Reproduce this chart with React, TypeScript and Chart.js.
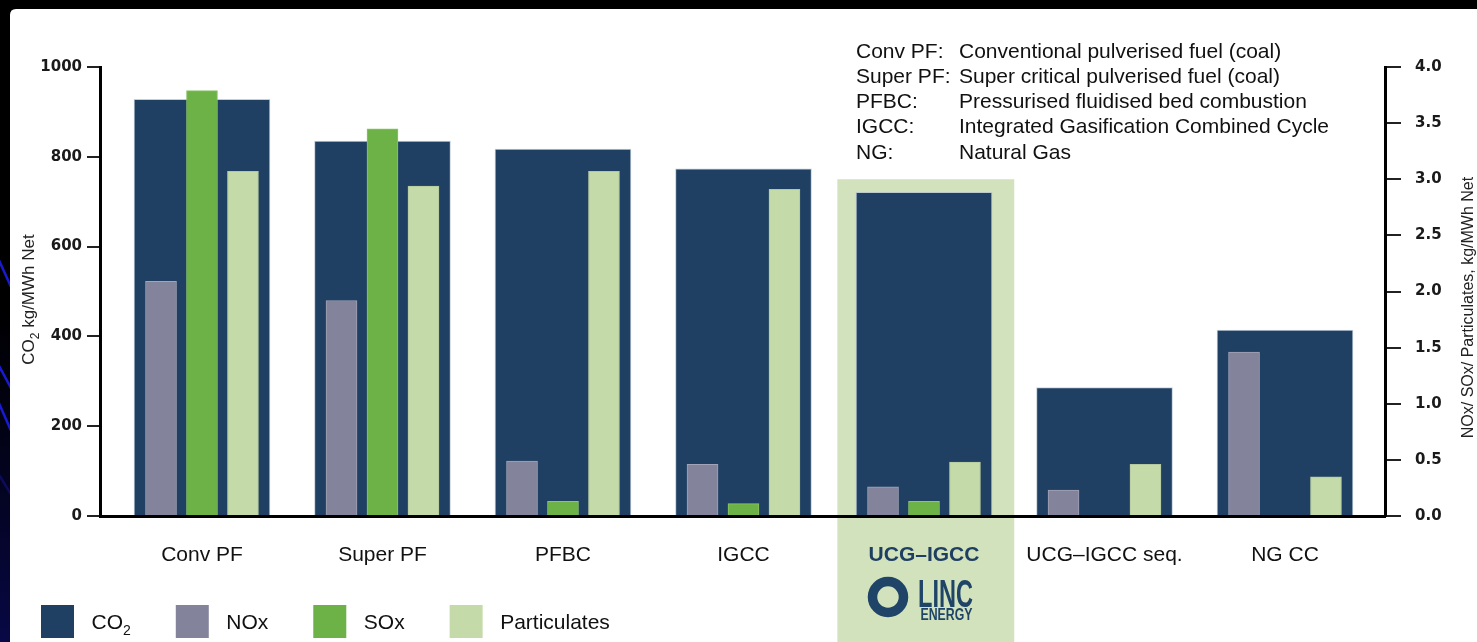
import React, { useEffect, useRef } from 'react';
import { Chart, registerables } from 'chart.js';

Chart.register(...registerables);

// Generating technologies shown along the x axis
const categories = ['Conv PF', 'Super PF', 'PFBC', 'IGCC', 'UCG–IGCC', 'UCG–IGCC seq.', 'NG CC'];

// CO2 emissions, kg/MWh net (left axis)
const co2Values = [928, 835, 817, 773, 721, 286, 414];

// NOx / SOx / particulates, kg/MWh net (right axis)
const noxValues = [2.09, 1.92, 0.49, 0.46, 0.26, 0.23, 1.46];
const soxValues = [3.79, 3.45, 0.13, 0.11, 0.13, null, null];
const particulateValues = [3.07, 2.94, 3.07, 2.91, 0.48, 0.46, 0.35];

const seriesNames = ['CO2', 'NOx', 'SOx', 'Particulates'];

// Abbreviation key printed in the top right corner
const abbreviations = ['Conv PF:', 'Super PF:', 'PFBC:', 'IGCC:', 'NG:'];
const definitions = [
  'Conventional pulverised fuel (coal)',
  'Super critical pulverised fuel (coal)',
  'Pressurised fluidised bed combustion',
  'Integrated Gasification Combined Cycle',
  'Natural Gas',
];

const co2Title = 'CO2 kg/MWh Net';
const emissionsTitle = 'NOx/ SOx/ Particulates, kg/MWh Net';

// The featured technology gets a shaded column and the company mark
const featuredIndex = 4;

const COLORS = {
  co2: '#1f4063',
  nox: '#83849b',
  sox: '#6cb246',
  particulates: '#c4dba9',
  feature: '#d1e2bc',
  brand: '#1f4468',
  text: '#111111',
};

const SANS = "'Liberation Sans', Arial, Helvetica, sans-serif";
const TICK_FONT = { family: "'DejaVu Sans', Verdana, sans-serif", size: 15, weight: 'bold' as const };

// Text such as "CO2 ..." is drawn with the digit after the formula as a subscript
function splitFormula(text: string) {
  const m = /^([A-Z][A-Za-z]*?)(\d)(.*)$/.exec(text);
  if (!m) return { head: text, sub: '', tail: '' };
  return { head: m[1], sub: m[2], tail: m[3] };
}

function measureFormula(ctx: CanvasRenderingContext2D, text: string, size: number) {
  const { head, sub, tail } = splitFormula(text);
  ctx.font = `${size}px ${SANS}`;
  let w = ctx.measureText(head).width + ctx.measureText(tail).width;
  if (sub) {
    ctx.font = `${Math.round(size * 0.68)}px ${SANS}`;
    w += ctx.measureText(sub).width;
  }
  return w;
}

function drawFormula(ctx: CanvasRenderingContext2D, text: string, x: number, y: number, size: number) {
  const { head, sub, tail } = splitFormula(text);
  ctx.textAlign = 'left';
  ctx.textBaseline = 'alphabetic';
  ctx.font = `${size}px ${SANS}`;
  ctx.fillText(head, x, y);
  let cx = x + ctx.measureText(head).width;
  if (sub) {
    ctx.font = `${Math.round(size * 0.68)}px ${SANS}`;
    ctx.fillText(sub, cx, y + size * 0.3);
    cx += ctx.measureText(sub).width;
    ctx.font = `${size}px ${SANS}`;
  }
  ctx.fillText(tail, cx, y);
  return cx + ctx.measureText(tail).width - x;
}

// Draws text squeezed horizontally to a given width
function drawCondensed(ctx: CanvasRenderingContext2D, text: string, x: number, y: number, font: string, width: number) {
  ctx.font = font;
  const w = ctx.measureText(text).width;
  ctx.save();
  ctx.translate(x, y);
  ctx.scale(width / w, 1);
  ctx.textAlign = 'left';
  ctx.textBaseline = 'alphabetic';
  ctx.fillText(text, 0, 0);
  ctx.restore();
}

// Each pollutant bar sits in its own slot inside the category; slot spacing in category units
const SLOT = 0.227;
const toPoints = (values: (number | null)[], slot = 0) =>
  values.map((v, i) => ({ x: i + slot * SLOT, y: v }));

const integerTicks = (scale: any) => {
  scale.ticks = categories.map((_, i) => ({ value: i }));
};

const X_MIN = -0.565;
const X_MAX = 6.554;

const decorations = {
  id: 'decorations',
  beforeDraw(chart: any) {
    const { ctx, width, height } = chart;
    ctx.save();
    // slide backdrop
    ctx.fillStyle = '#000';
    ctx.fillRect(0, 0, width, height);
    const fade = ctx.createLinearGradient(0, 300, 0, height);
    fade.addColorStop(0, 'rgba(4,4,50,0)');
    fade.addColorStop(1, 'rgba(8,8,70,1)');
    ctx.fillStyle = fade;
    ctx.fillRect(0, 300, 12, height - 300);
    ctx.lineWidth = 2.5;
    const streaks: [number, number, string][] = [
      [262, 287, '#1a1ad2'],
      [368, 388, '#1a1ad2'],
      [405, 431, '#1a1ad2'],
      [477, 494, '#0c0c5a'],
    ];
    streaks.forEach(([y0, y1, c]) => {
      ctx.strokeStyle = c;
      ctx.beginPath();
      ctx.moveTo(-2, y0 - 4);
      ctx.lineTo(12, y1 + 2);
      ctx.stroke();
    });
    // white panel
    ctx.fillStyle = '#ffffff';
    ctx.beginPath();
    ctx.moveTo(10, 15);
    ctx.quadraticCurveTo(10, 9, 16, 9);
    ctx.lineTo(width, 9);
    ctx.lineTo(width, height);
    ctx.lineTo(10, height);
    ctx.closePath();
    ctx.fill();

    // shaded column behind the featured technology
    const xs = chart.scales.x;
    const ys = chart.scales.y;
    const left = xs.getPixelForValue(featuredIndex - 0.48);
    const right = xs.getPixelForValue(featuredIndex + 0.5);
    const top = ys.getPixelForValue(750);
    ctx.fillStyle = COLORS.feature;
    ctx.fillRect(left, top, right - left, height - top);
    ctx.restore();
  },
  afterDraw(chart: any) {
    const { ctx, chartArea } = chart;
    const xs = chart.scales.x;
    ctx.save();
    ctx.fillStyle = '#222';

    // left axis title, reading upwards
    {
      const size = 17;
      const w = measureFormula(ctx, co2Title, size);
      ctx.save();
      ctx.translate(chartArea.left - 72, (chartArea.top + chartArea.bottom) / 2 + 8);
      ctx.rotate(-Math.PI / 2);
      drawFormula(ctx, co2Title, -w / 2, size * 0.36, size);
      ctx.restore();
    }
    // right axis title, reading upwards
    {
      const size = 16;
      ctx.save();
      ctx.translate(chartArea.right + 82, (chartArea.top + chartArea.bottom) / 2 + 16);
      ctx.rotate(-Math.PI / 2);
      ctx.font = `${size}px ${SANS}`;
      ctx.textAlign = 'center';
      ctx.textBaseline = 'alphabetic';
      ctx.fillText(emissionsTitle, 0, size * 0.36);
      ctx.restore();
    }

    // abbreviation key
    ctx.fillStyle = COLORS.text;
    ctx.font = `21px ${SANS}`;
    ctx.textAlign = 'left';
    ctx.textBaseline = 'alphabetic';
    abbreviations.forEach((a, i) => {
      const y = 57.5 + i * 25.3;
      ctx.fillText(a, 856, y);
      ctx.fillText(definitions[i], 959, y);
    });

    // legend
    const swatches = [COLORS.co2, COLORS.nox, COLORS.sox, COLORS.particulates];
    let lx = 41;
    seriesNames.forEach((name, i) => {
      ctx.fillStyle = swatches[i];
      ctx.fillRect(lx, 605, 33, 33);
      lx += 33 + 17.5;
      ctx.fillStyle = COLORS.text;
      const w = drawFormula(ctx, name, lx, 628.5, 21);
      lx += w + 45;
    });

    // company mark under the featured label
    const cx = xs.getPixelForValue(featuredIndex);
    ctx.strokeStyle = COLORS.brand;
    ctx.lineWidth = 9.5;
    ctx.beginPath();
    ctx.arc(cx - 36, 597, 15.5, 0, Math.PI * 2);
    ctx.stroke();
    ctx.fillStyle = COLORS.brand;
    drawCondensed(ctx, 'LINC', cx - 6, 607, `bold 39px ${SANS}`, 55);
    drawCondensed(ctx, 'ENERGY', cx - 3.5, 620, `bold 16.5px ${SANS}`, 52);
    ctx.restore();
  },
};

const barCommon = { grouped: false, borderWidth: 1 };

export default function App() {
  const canvasRef = useRef<HTMLCanvasElement>(null);

  useEffect(() => {
    const canvas = canvasRef.current;
    if (!canvas) return;

    const chart = new Chart(canvas, {
      type: 'bar',
      data: {
        datasets: [
          {
            ...barCommon,
            label: seriesNames[0],
            data: toPoints(co2Values),
            yAxisID: 'y',
            backgroundColor: COLORS.co2,
            borderColor: 'rgba(185,197,212,0.85)',
            barThickness: 136,
            order: 2,
          },
          {
            ...barCommon,
            label: seriesNames[1],
            data: toPoints(noxValues, -1),
            yAxisID: 'y2',
            backgroundColor: COLORS.nox,
            borderColor: '#a2a3b6',
            barThickness: 31,
            order: 1,
          },
          {
            ...barCommon,
            label: seriesNames[2],
            data: toPoints(soxValues, 0),
            yAxisID: 'y2',
            backgroundColor: COLORS.sox,
            borderColor: '#8cc56a',
            barThickness: 31,
            order: 1,
          },
          {
            ...barCommon,
            label: seriesNames[3],
            data: toPoints(particulateValues, 1),
            yAxisID: 'y2',
            backgroundColor: COLORS.particulates,
            borderColor: '#b4c89e',
            barThickness: 31,
            order: 1,
          },
        ],
      },
      options: {
        responsive: false,
        animation: false,
        devicePixelRatio: 1,
        layout: { padding: { top: 67, left: 0, right: 0, bottom: 0 } },
        font: { family: SANS },
        plugins: {
          legend: { display: false },
          tooltip: { enabled: false },
        },
        scales: {
          x: {
            type: 'linear',
            position: 'bottom',
            min: X_MIN,
            max: X_MAX,
            bounds: 'data',
            offset: false,
            z: 1,
            afterBuildTicks: integerTicks,
            afterFit: (s: any) => {
              s.height = 126;
            },
            grid: { display: false, drawTicks: false, offset: false },
            border: { display: true, color: '#000', width: 3 },
            ticks: {
              autoSkip: false,
              maxRotation: 0,
              minRotation: 0,
              padding: 27,
              callback: (v: any) => categories[v] ?? '',
              font: (c: any) => ({
                family: SANS,
                size: 21,
                weight: c.index === featuredIndex ? 'bold' : 'normal',
              }),
              color: (c: any) => (c.index === featuredIndex ? '#1f3f62' : COLORS.text),
            },
          },
          y: {
            type: 'linear',
            position: 'left',
            min: 0,
            max: 1000,
            z: 1,
            afterFit: (s: any) => {
              s.width = 100;
            },
            grid: { drawOnChartArea: false, tickLength: 13, color: '#222', lineWidth: 2 },
            border: { color: '#000', width: 3 },
            ticks: {
              stepSize: 200,
              padding: 5,
              font: TICK_FONT,
              color: '#1a1a1a',
              callback: (v: any) => String(v),
            },
          },
          y2: {
            type: 'linear',
            position: 'right',
            min: 0,
            max: 4,
            z: 1,
            afterFit: (s: any) => {
              s.width = 92;
            },
            grid: { drawOnChartArea: false, tickLength: 16, color: '#222', lineWidth: 2 },
            border: { color: '#000', width: 3 },
            ticks: {
              stepSize: 0.5,
              padding: 14,
              font: TICK_FONT,
              color: '#1a1a1a',
              callback: (v: any) => Number(v).toFixed(1),
            },
          },
        },
      } as any,
      plugins: [decorations],
    });

    return () => chart.destroy();
  }, []);

  return (
    <div style={{ position: 'fixed', left: 0, top: 0, width: 1477, height: 642, background: '#000' }}>
      <canvas ref={canvasRef} width={1477} height={642} style={{ display: 'block' }} />
    </div>
  );
}
